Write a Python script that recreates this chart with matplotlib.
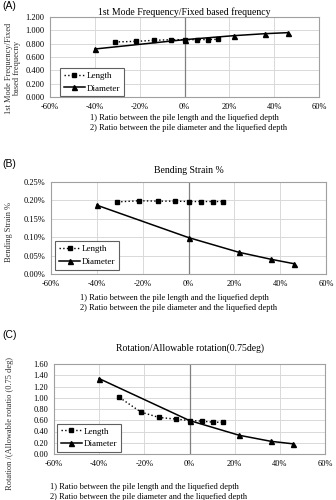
import matplotlib
matplotlib.use('Agg')
import matplotlib.pyplot as plt
from matplotlib.ticker import FuncFormatter

### data ###
len_x = [-31, -21.5, -13.5, -6, 0, 5.5, 10.5, 15]
dia_x = [-40, 0, 22, 36, 46]

freq_len = [0.825, 0.835, 0.850, 0.860, 0.860, 0.860, 0.862, 0.865]
freq_dia = [0.720, 0.860, 0.920, 0.950, 0.965]

strain_len = [0.196, 0.199, 0.198, 0.198, 0.197, 0.197, 0.197, 0.197]
strain_dia = [0.187, 0.099, 0.059, 0.040, 0.028]

rot_len = [1.005, 0.745, 0.650, 0.620, 0.595, 0.585, 0.565, 0.565]
rot_dia = [1.340, 0.595, 0.333, 0.226, 0.180]

xticks = [-60, -40, -20, 0, 20, 40, 60]
note1 = '1) Ratio between the pile length and the liquefied depth'
note2 = '2) Ratio between the pile diameter and the liquefied depth'

### plotting parameters ###
serif = 'Liberation Serif'
fs = 6
fst = 7
grid_c = '#d9d9d9'

fig = plt.figure(figsize=(3.36, 5.00), dpi=100)

def px(x, y):
    return x / 336.0, 1 - y / 500.0

def panel(rect_px, ydat_len, ydat_dia, ylim, yticks, yfmt, ylabel, title, title_y,
          label, label_y, note_x, note_y, ylab_x, ylab_y, leg_anchor):
    l, t, r, b = rect_px
    ax = fig.add_axes([l / 336.0, 1 - b / 500.0, (r - l) / 336.0, (b - t) / 500.0])
    for xv in xticks:
        ax.axvline(xv, color=grid_c, lw=0.7, zorder=0)
    for yv in yticks:
        ax.axhline(yv, color=grid_c, lw=0.7, zorder=0)
    ax.axvline(0, color='#808080', lw=0.9, zorder=1)
    ax.plot(len_x, ydat_len, marker='s', ms=3.2, color='black', ls=':', lw=1.0,
            label='Length', zorder=3)
    ax.plot(dia_x, ydat_dia, marker='^', ms=3.6, color='black', ls='-', lw=1.1,
            label='Diameter', zorder=3)
    ax.set_xlim(-60, 60)
    ax.set_ylim(ylim)
    ax.set_xticks(xticks)
    ax.set_yticks(yticks)
    ax.xaxis.set_major_formatter(FuncFormatter(lambda v, p: '%d%%' % v))
    ax.yaxis.set_major_formatter(FuncFormatter(yfmt))
    ax.tick_params(axis='both', length=0, labelsize=fs, pad=4)
    for t_ in ax.get_xticklabels() + ax.get_yticklabels():
        t_.set_fontfamily(serif)
    for sp in ax.spines.values():
        sp.set_color('#a0a0a0')
        sp.set_linewidth(0.8)
    leg = ax.legend(loc='lower left', bbox_to_anchor=leg_anchor, prop={'family': serif, 'size': fs + 0.5},
                    fancybox=False, edgecolor='#606060', framealpha=1, handlelength=2.4,
                    handletextpad=0.2, borderpad=0.4, labelspacing=0.5, borderaxespad=0)
    leg.get_frame().set_linewidth(0.8)
    fig.text(*px(ylab_x, ylab_y), ylabel, rotation=90, ha='center', va='center',
             family=serif, fontsize=fs, color='#303030', linespacing=1.0)
    fig.text(*px((l + r) / 2.0, title_y), title, ha='center', va='center', family=serif, fontsize=fst)
    fig.text(*px(2, label_y), label, ha='left', va='center', family='Liberation Sans', fontsize=7.5)
    fig.text(*px(note_x, note_y), note1, ha='left', va='center', family=serif, fontsize=fs)
    fig.text(*px(note_x, note_y + 10), note2, ha='left', va='center', family=serif, fontsize=fs)
    return ax

panel((50, 17, 319, 97), freq_len, freq_dia, (0, 1.2), [0, 0.2, 0.4, 0.6, 0.8, 1.0, 1.2],
      lambda v, p: '%.3f' % v, '1st Mode Frequency/Fixed\nbased frequecny',
      '1st Mode Frequency/Fixed based frequency', 12, '(A)', 6, 90, 118, 13, 68, (0.037, 0.01))

panel((51, 182, 326, 274), strain_len, strain_dia, (0, 0.25), [0, 0.05, 0.10, 0.15, 0.20, 0.25],
      lambda v, p: '%.2f%%' % v, 'Bending Strain %',
      'Bending Strain %', 170, '(B)', 164, 80, 298, 9, 232, (0.015, 0.045))

panel((54, 364, 325, 454), rot_len, rot_dia, (0, 1.6), [0, 0.2, 0.4, 0.6, 0.8, 1.0, 1.2, 1.4, 1.6],
      lambda v, p: '%.2f' % v, 'Rotation /(Allowable rotatio (0.75 deg)',
      'Rotation/Allowable rotation(0.75deg)', 348, '(C)', 335, 50, 487, 10, 424, (0.011, 0.022))

plt.savefig('out.png', dpi=100)
plt.close()
